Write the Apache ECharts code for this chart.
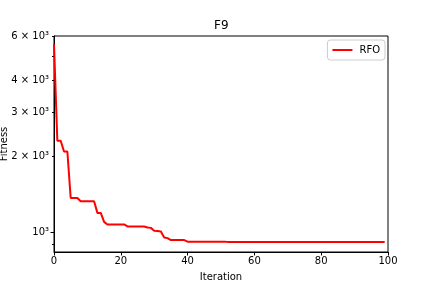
<!DOCTYPE html>
<html>
<head>
<meta charset="utf-8">
<script src="https://cdn.jsdelivr.net/npm/echarts@6/dist/echarts.min.js"></script>
<style>html,body{margin:0;padding:0;background:#fff}#c{width:432px;height:288px}</style>
</head>
<body>
<div id="c"></div>
<script>
var seriesName = 'RFO';
var fitness = [
  5570, 2310, 2310, 2094, 2094, 1371, 1371, 1371, 1330, 1330,
  1330, 1330, 1330, 1197, 1197, 1103, 1077, 1077, 1077, 1077,
  1077, 1077, 1058, 1058, 1058, 1058, 1058, 1058, 1048, 1044,
  1018, 1014, 1010, 957, 951, 934, 934, 934, 934, 934,
  921, 921, 921, 921, 921, 921, 921, 921, 921, 921,
  921, 921, 919, 919, 919, 919, 919, 919, 919, 919,
  919, 919, 919, 919, 919, 919, 919, 919, 919, 919,
  919, 919, 919, 919, 919, 919, 919, 919, 919, 919,
  917, 917, 917, 917, 917, 917, 917, 917, 917, 917,
  917, 917, 917, 917, 917, 917, 917, 917, 917, 917
];
var yLabelValues = [1000, 2000, 3000, 4000, 6000];
var yLabelTexts = ['10³', '2 × 10³', '3 × 10³', '4 × 10³', '6 × 10³'];
var yMajorTicks = [1000];
var yMinorTicks = [900, 2000, 3000, 4000, 5000, 6000];
var xTicks = [0, 20, 40, 60, 80, 100];

var pts = fitness.map(function (v, i) { return [i, v]; });
var font = 'DejaVu Sans';
var chart = echarts.init(document.getElementById('c'), null, {renderer: 'canvas'});
chart.setOption({
  animation: false,
  backgroundColor: '#fff',
  title: {
    text: 'F9', left: 214, top: 20, padding: 0,
    textStyle: {fontFamily: font, fontSize: 12, fontWeight: 'normal', color: '#000'}
  },
  legend: {
    right: 47, top: 40, orient: 'vertical',
    data: [{name: seriesName, icon: 'rect'}],
    itemWidth: 20, itemHeight: 2,
    padding: [5, 5, 5, 5],
    borderColor: '#cccccc', borderWidth: 1, borderRadius: 3,
    backgroundColor: 'rgba(255,255,255,0.8)',
    textStyle: {fontFamily: font, fontSize: 10, color: '#000', padding: [0, 0, 0, 2]}
  },
  grid: {left: 54, right: 44, top: 36, bottom: 36, show: true, borderColor: '#000', borderWidth: 1, backgroundColor: 'transparent', containLabel: false, outerBoundsMode: 'none'},
  xAxis: {
    type: 'value', min: 0, max: 100, interval: 20,
    name: 'Iteration', nameLocation: 'middle', nameGap: 20, nameMoveOverlap: false,
    nameTextStyle: {fontFamily: font, fontSize: 10, color: '#000'},
    axisLine: {show: true, lineStyle: {color: '#000', width: 1}},
    axisTick: {show: true, length: 3.5, lineStyle: {color: '#000'}, customValues: xTicks},
    axisLabel: {fontFamily: font, fontSize: 10, color: '#000', margin: 4, customValues: xTicks},
    splitLine: {show: false}
  },
  yAxis: [{
    type: 'log', logBase: 10, min: 838, max: 6000,
    name: 'Fitness', nameLocation: 'middle', nameGap: 45, nameMoveOverlap: false,
    nameTextStyle: {fontFamily: font, fontSize: 10, color: '#000'},
    axisLine: {show: true, lineStyle: {color: '#000', width: 1}},
    axisTick: {show: true, length: 3.5, lineStyle: {color: '#000'}, customValues: yMajorTicks},
    axisLabel: {
      fontFamily: font, fontSize: 10, color: '#000', margin: 5,
      customValues: yLabelValues,
      formatter: function (v) {
        var k = yLabelValues.findIndex(function (t) { return Math.abs(t - v) < 1e-6 * t; });
        return k >= 0 ? yLabelTexts[k] : '';
      }
    },
    splitLine: {show: false}
  }, {
    type: 'log', logBase: 10, min: 838, max: 6000, position: 'left', offset: 0,
    axisLine: {show: false},
    axisTick: {show: true, length: 2, lineStyle: {color: '#000'}, customValues: yMinorTicks},
    axisLabel: {show: false},
    splitLine: {show: false}
  }],
  series: [{
    name: seriesName, type: 'line', data: pts, yAxisIndex: 0,
    showSymbol: false, symbol: 'none',
    lineStyle: {color: '#ff0000', width: 2},
    itemStyle: {color: '#ff0000'}
  }]
});
</script>
</body>
</html>
